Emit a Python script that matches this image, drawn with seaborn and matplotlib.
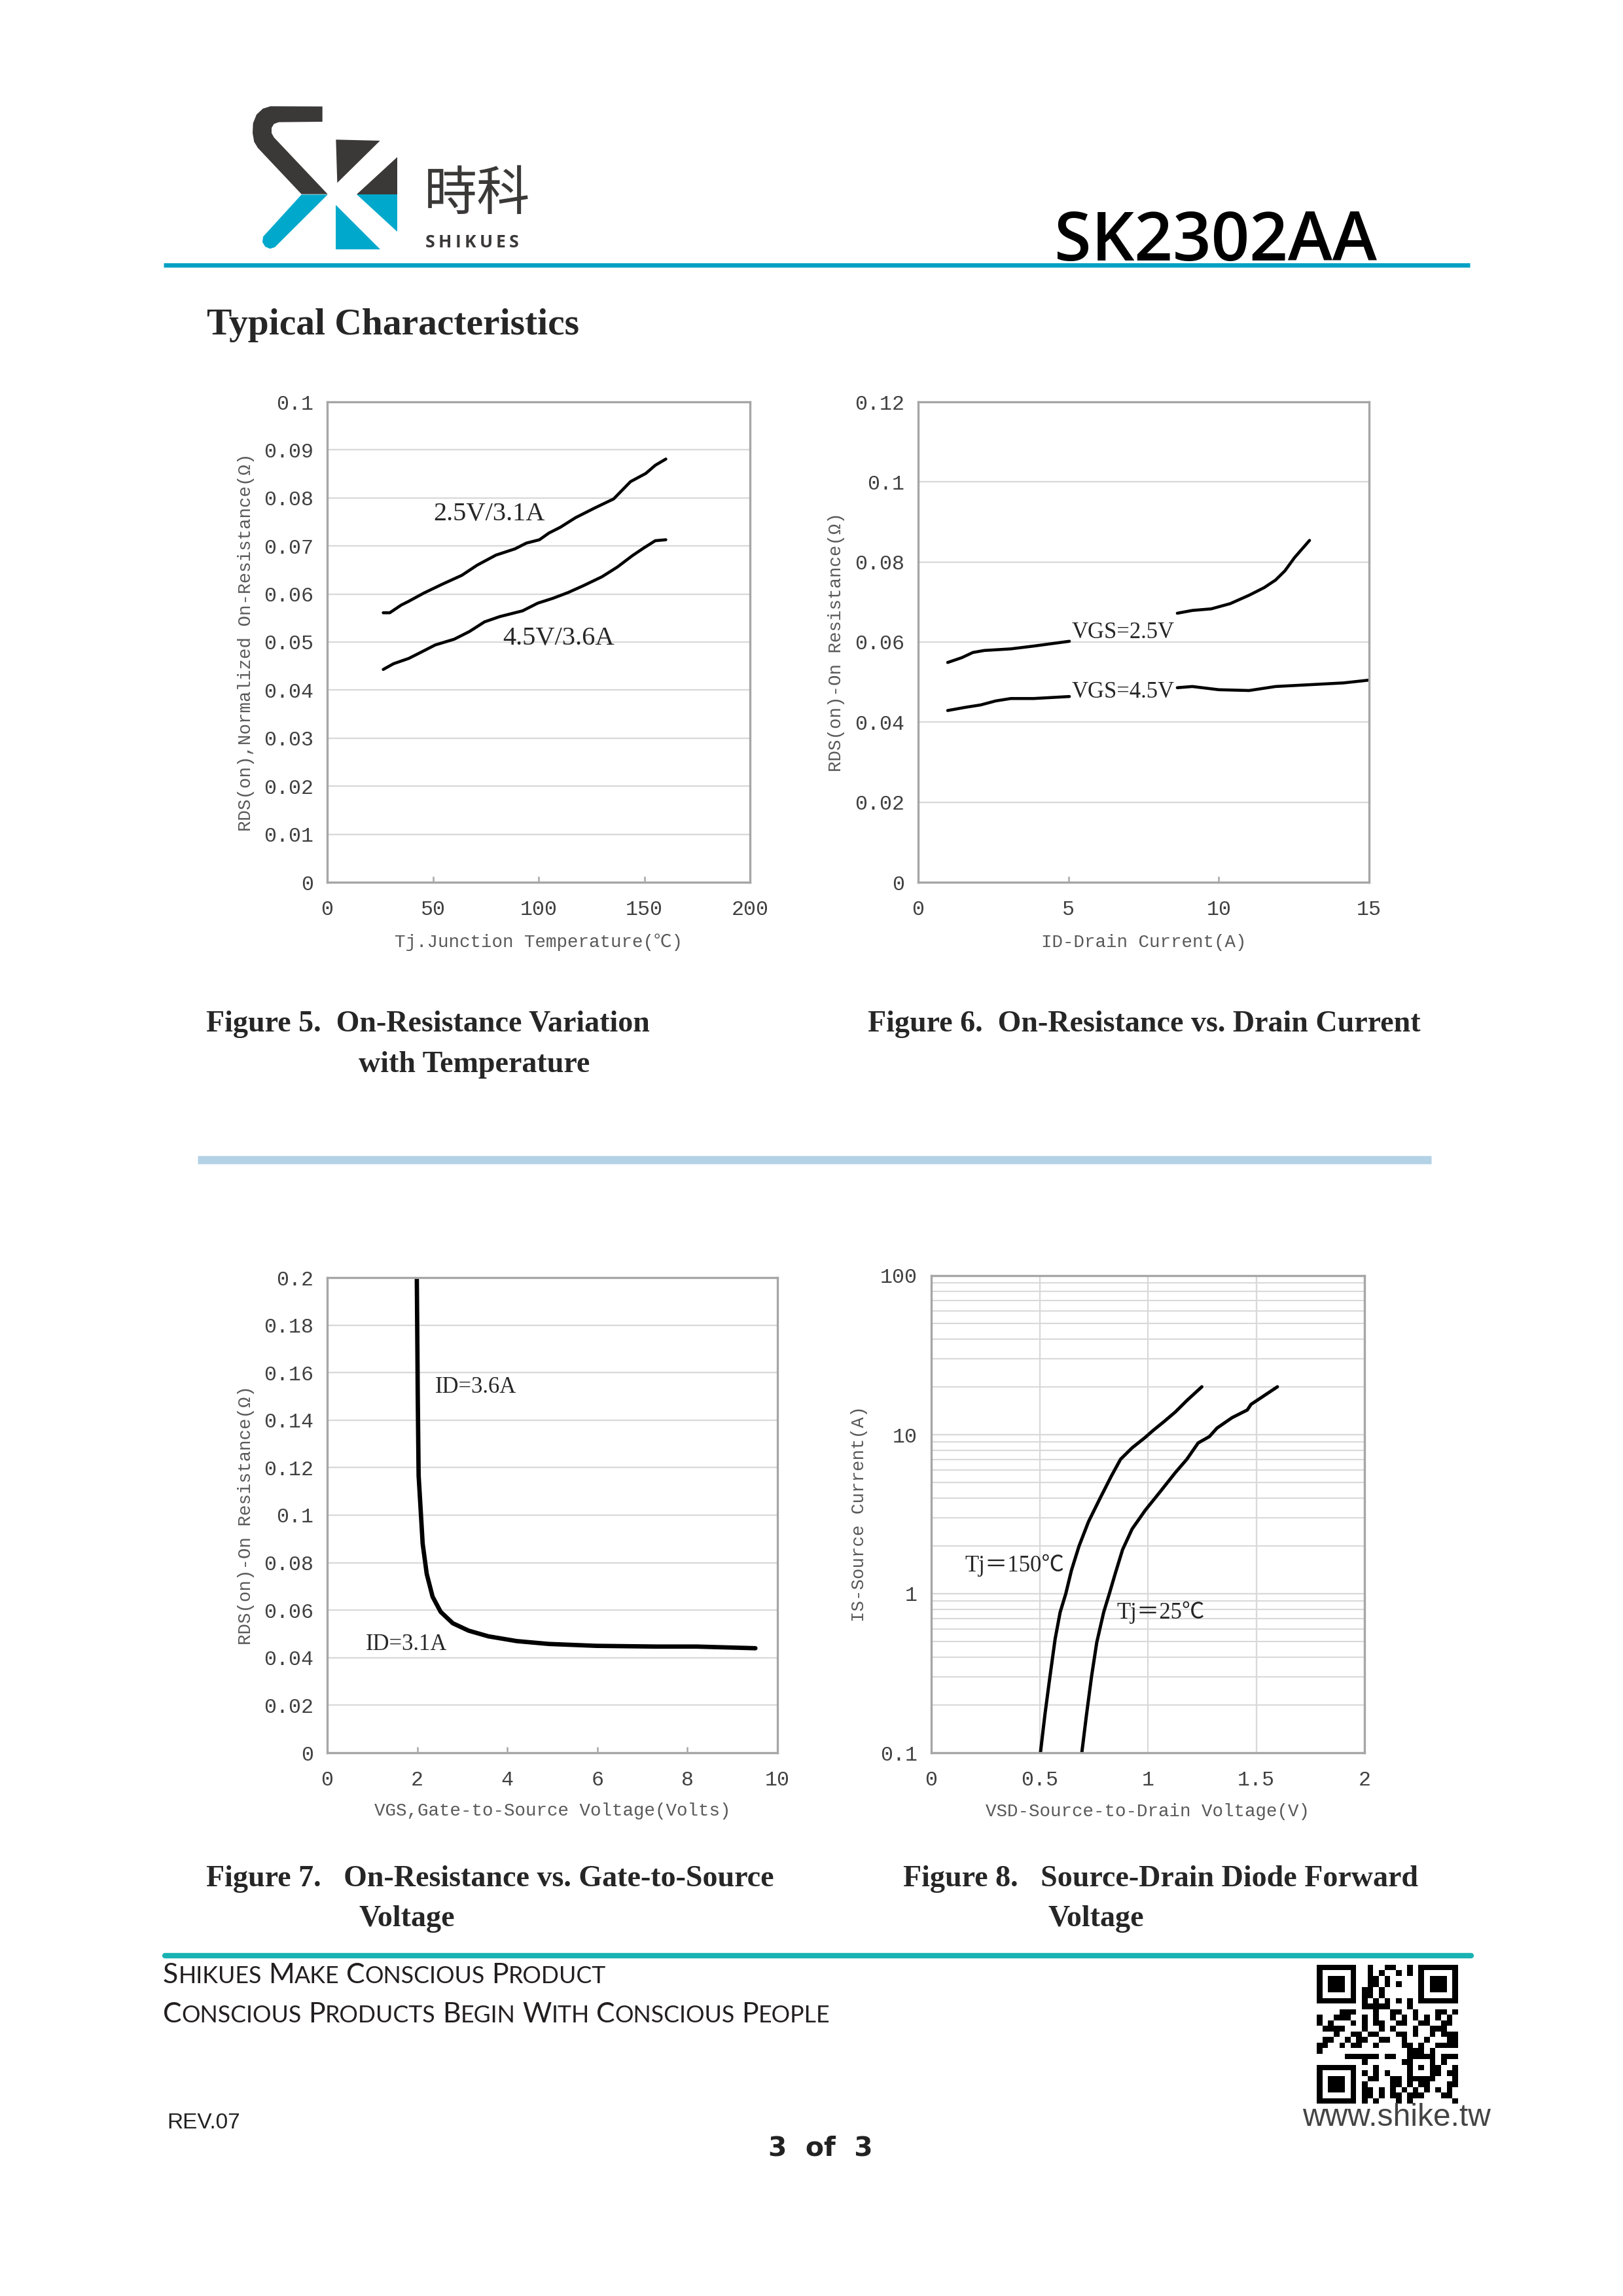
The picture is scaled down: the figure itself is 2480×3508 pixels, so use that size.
import numpy as np
import pandas as pd
import matplotlib
matplotlib.use("Agg")
import matplotlib.pyplot as plt
import seaborn as sns
from matplotlib.patches import Polygon
from matplotlib.ticker import FixedLocator, FuncFormatter, LogLocator, NullFormatter
from matplotlib.offsetbox import TextArea, HPacker, AnnotationBbox

# ---- Figure 5: on-resistance vs junction temperature ----
temp_a = [26.5, 29.6, 35, 38.6, 45.7, 54.7, 63.7, 70.9, 79.8, 88.8, 94.2, 100.4,
          104.9, 110.3, 117.5, 126.5, 135.5, 143.5, 150.7, 155.2, 160.2]
rds_a = [0.0561, 0.0561, 0.0577, 0.0585, 0.0602, 0.0621, 0.0639, 0.0660, 0.0681,
         0.0694, 0.0706, 0.0713, 0.0727, 0.0739, 0.0759, 0.0779, 0.0798, 0.0834,
         0.0851, 0.0868, 0.0881]
temp_b = [26.5, 31.4, 38.6, 44, 51.1, 60.1, 67.3, 74.4, 81.6, 92.4, 99.6, 106.7,
          113.9, 121, 130, 137.2, 144.4, 149.8, 155.2, 160.2]
rds_b = [0.0443, 0.0455, 0.0466, 0.0478, 0.0494, 0.0506, 0.0522, 0.0542, 0.0553,
         0.0565, 0.0581, 0.0591, 0.0603, 0.0617, 0.0636, 0.0656, 0.0680, 0.0696,
         0.0711, 0.0713]

# ---- Figure 6: on-resistance vs drain current (two pieces, label gap) ----
id_25_left = [0.98, 1.45, 1.82, 2.2, 3.08, 3.84, 5.03]
rds_25_left = [0.0549, 0.0561, 0.0574, 0.0579, 0.0583, 0.0590, 0.0602]
id_25_right = [8.62, 9.12, 9.75, 10.38, 11.01, 11.51, 11.89, 12.2, 12.52, 13.02]
rds_25_right = [0.0672, 0.0679, 0.0683, 0.0696, 0.0717, 0.0736, 0.0755, 0.0778,
                0.0811, 0.0854]
id_45_left = [0.98, 1.57, 2.08, 2.58, 3.08, 3.84, 5.03]
rds_45_left = [0.0429, 0.0437, 0.0443, 0.0453, 0.0459, 0.0459, 0.0464]
id_45_right = [8.62, 9.12, 10.0, 11.01, 11.89, 13.15, 14.15, 15.0]
rds_45_right = [0.0486, 0.0489, 0.0481, 0.0479, 0.0489, 0.0494, 0.0498, 0.0505]

# ---- Figure 7: on-resistance vs gate-to-source voltage ----
vgs = [1.99, 2.005, 2.01, 2.03, 2.08, 2.12, 2.21, 2.34, 2.52, 2.79, 3.14, 3.58,
       4.21, 4.92, 5.98, 7.31, 8.2, 9.51]
rds_vgs = [0.200, 0.1646, 0.1514, 0.1167, 0.1008, 0.0880, 0.0753, 0.0657, 0.0593,
           0.0545, 0.0514, 0.0490, 0.0470, 0.0458, 0.0450, 0.0447, 0.0447, 0.0440]

# ---- Figure 8: source-drain diode forward voltage ----
vsd_150 = [0.504, 0.525, 0.548, 0.572, 0.595, 0.621, 0.647, 0.682, 0.726, 0.778,
           0.831, 0.874, 0.927, 0.988, 1.023, 1.075, 1.127, 1.180, 1.249]
is_150 = [0.1, 0.175, 0.302, 0.521, 0.765, 1.0, 1.40, 1.99, 2.84, 3.95, 5.48, 7.01,
          8.26, 9.62, 10.6, 12.1, 13.9, 16.4, 20.0]
vsd_25 = [0.695, 0.717, 0.740, 0.764, 0.796, 0.822, 0.848, 0.883, 0.927, 0.988,
          1.058, 1.127, 1.180, 1.232, 1.284, 1.319, 1.389, 1.459, 1.476, 1.598]
is_25 = [0.1, 0.175, 0.302, 0.494, 0.765, 1.0, 1.32, 1.89, 2.55, 3.35, 4.40, 5.78,
         7.01, 8.87, 9.73, 11.0, 12.8, 14.3, 15.5, 20.0]

W, H = 2480, 3508
sns.set_theme(style="white")
plt.rcParams["font.family"] = ["Liberation Serif", "Noto Sans CJK SC", "DejaVu Sans"]

MONO = ["Liberation Mono", "DejaVu Sans Mono", "Noto Sans CJK SC"]
SERIF = ["Liberation Serif", "Noto Sans CJK SC", "DejaVu Sans"]
DARK = "#3b3838"
CYAN = "#00a9cc"

fig = plt.figure(figsize=(W / 300, H / 300), dpi=300, facecolor="white")

# page overlay in pixel coordinates
page = fig.add_axes([0, 0, 1, 1])
page.set_xlim(0, W)
page.set_ylim(H, 0)
page.axis("off")


def lp(x, y):
    # logo sketch coords -> page pixels
    return (370 + x / 3.0, 150 + y / 3.0)


logo_shapes = [
    ([(368, 38), (368, 108), (168, 110), (146, 118), (135, 136), (135, 160),
      (146, 180), (392, 440), (272, 440), (72, 228), (55, 200), (48, 160),
      (50, 115), (66, 75), (95, 48), (130, 37)], DARK),
    ([(272, 442), (392, 442), (150, 683), (128, 690), (106, 681), (93, 660),
      (96, 635)], CYAN),
    ([(430, 190), (632, 195), (436, 388)], DARK),
    ([(710, 270), (710, 440), (525, 440)], DARK),
    ([(525, 442), (710, 442), (710, 612)], CYAN),
    ([(430, 490), (430, 692), (632, 692)], CYAN),
]
for pts, col in logo_shapes:
    page.add_patch(Polygon([lp(*p) for p in pts], closed=True, color=col, lw=0))

page.text(648, 298, "時科", fontsize=19.5, color=DARK, ha="left", va="center",
          family=["Noto Sans CJK TC", "Noto Sans CJK SC"], fontweight="light")
logo_letters = HPacker(children=[TextArea(ch, textprops=dict(
    fontsize=6.4, color=DARK, family=["Open Sans", "DejaVu Sans"], fontweight="bold"))
    for ch in "SHIKUES"], align="baseline", pad=0, sep=1.25)
page.add_artist(AnnotationBbox(logo_letters, (650, 371), xycoords="data",
                               box_alignment=(0, 0.5), frameon=False, pad=0))
page.text(2104, 398, "SK2302AA", fontsize=24.7, color="black", ha="right",
          va="baseline", family=["Open Sans", "DejaVu Sans"], fontweight="semibold")
page.plot([250, 2246], [405, 405], color="#00a0c4", lw=1.6, solid_capstyle="butt")
page.text(316, 497, "Typical Characteristics", fontsize=13.8, fontweight="bold",
          ha="left", va="center", family=SERIF)

# captions
cap = dict(fontsize=11.05, fontweight="bold", ha="left", va="center", family=SERIF)
page.text(315, 1565, "Figure 5.  On-Resistance Variation", **cap)
page.text(548, 1627, "with Temperature", **cap)
page.text(1326, 1565, "Figure 6.  On-Resistance vs. Drain Current", **cap)
page.text(315, 2871, "Figure 7.   On-Resistance vs. Gate-to-Source", **cap)
page.text(548, 2932, "Voltage", **cap)
page.text(1380, 2871, "Figure 8.   Source-Drain Diode Forward", **cap)
page.text(1601, 2932, "Voltage", **cap)

page.plot([302, 2187], [1772, 1772], color="#b4d2e6", lw=3.0, solid_capstyle="butt")

# footer
page.plot([252, 2248], [2988, 2988], color="#1ab3b3", lw=2.0, solid_capstyle="round")


def small_caps(text, x, y, big, small):
    props_big = dict(fontsize=big, color="#231f20", family=["Lato", "DejaVu Sans"])
    props_small = dict(props_big, fontsize=small)
    words = []
    for w in text.split():
        words.append(HPacker(children=[TextArea(w[0], textprops=props_big),
                                       TextArea(w[1:].upper(), textprops=props_small)],
                             align="baseline", pad=0, sep=0))
    box = HPacker(children=words, align="baseline", pad=0, sep=2.5)
    page.add_artist(AnnotationBbox(box, (x, y), xycoords="data", box_alignment=(0, 0.5),
                                   frameon=False, pad=0))


small_caps("Shikues Make Conscious Product", 249, 3018, 10.3, 8.6)
small_caps("Conscious Products Begin With Conscious People", 249, 3078, 10.3, 8.6)
page.text(255, 3244, "REV.07", fontsize=8, color="#222222", ha="left", va="center",
          family=["Liberation Sans", "DejaVu Sans"])
page.text(1254, 3282, "3  of  3", fontsize=9.8, color="#222222", ha="center",
          va="center", family=["DejaVu Sans"], fontweight="bold")
page.text(2134, 3236, "www.shike.tw", fontsize=11.5, color="#444444", ha="center",
          va="center", family=["Liberation Sans", "DejaVu Sans"])

# QR-style block (decorative, fixed integer pattern)
n = 25
qr = np.zeros((n, n), dtype=int)
for r in range(n):
    for c in range(n):
        h = (r * 73856093) ^ (c * 19349663) ^ (r * c * 83492791)
        qr[r, c] = 1 if (h >> 3) % 7 < 3 else 0


def finder(r0, c0):
    qr[max(r0 - 1, 0):r0 + 8, max(c0 - 1, 0):c0 + 8] = 0
    qr[r0:r0 + 7, c0:c0 + 7] = 1
    qr[r0 + 1:r0 + 6, c0 + 1:c0 + 6] = 0
    qr[r0 + 2:r0 + 5, c0 + 2:c0 + 5] = 1


finder(0, 0)
finder(0, n - 7)
finder(n - 7, 0)
qr[16:21, 16:21] = 1
qr[17:20, 17:20] = 0
qr[18, 18] = 1
qr[6, 8:n - 8] = [1 - (i % 2) for i in range(n - 16)]
qr[8:n - 8, 6] = [1 - (i % 2) for i in range(n - 16)]
page.imshow(1 - qr, cmap="gray", vmin=0, vmax=1, interpolation="nearest",
            extent=(2012, 2228, 3214, 3002), aspect="auto", zorder=2)
page.set_xlim(0, W)
page.set_ylim(H, 0)

# ---- chart helpers ----
SPINE = "#a6a6a6"
GRID = "#d9d9d9"


def style_axes(ax, xlabel, ylabel, ylab_x, xlab_y):
    ax.set_facecolor("white")
    for s in ax.spines.values():
        s.set_visible(True)
        s.set_color(SPINE)
        s.set_linewidth(0.8)
    ax.grid(False)
    ax.yaxis.grid(True, which="major", color=GRID, lw=0.55)
    ax.set_axisbelow(True)
    ax.tick_params(axis="y", which="both", length=0, pad=5.0, labelsize=7.6,
                   labelcolor="#404040")
    ax.tick_params(axis="x", which="both", direction="in", length=2.2, width=0.6,
                   color=SPINE, pad=6.5, labelsize=7.6, labelcolor="#404040",
                   bottom=True, top=False)
    for lab in ax.get_xticklabels() + ax.get_yticklabels():
        lab.set_family(MONO)
    ax.set_xlabel(xlabel, fontsize=6.6, color="#595959", family=MONO)
    ax.set_ylabel(ylabel, fontsize=6.6, color="#595959", family=MONO)
    ax.yaxis.set_label_coords(ylab_x, 0.5)
    ax.xaxis.set_label_coords(0.5, xlab_y)


def fmt(v, _pos):
    return ("%.3f" % v).rstrip("0").rstrip(".") if v != 0 else "0"


def axes_at(x0, y0, x1, y1):
    return fig.add_axes([x0 / W, 1 - y1 / H, (x1 - x0) / W, (y1 - y0) / H])


# Figure 5
ax5 = axes_at(500, 614, 1146, 1348)
sns.lineplot(x=temp_a, y=rds_a, ax=ax5, color="black", lw=1.1, sort=False, estimator=None)
sns.lineplot(x=temp_b, y=rds_b, ax=ax5, color="black", lw=1.1, sort=False, estimator=None)
ax5.set_xlim(0, 200)
ax5.set_ylim(0, 0.1)
ax5.xaxis.set_major_locator(FixedLocator([0, 50, 100, 150, 200]))
ax5.yaxis.set_major_locator(FixedLocator([i / 100 for i in range(11)]))
ax5.yaxis.set_major_formatter(FuncFormatter(fmt))
ax5.text(50.2, 0.0767, "2.5V/3.1A", fontsize=9.7, family=SERIF, va="center")
ax5.text(83, 0.0507, "4.5V/3.6A", fontsize=9.7, family=SERIF, va="center")
style_axes(ax5, "Tj.Junction Temperature(℃)", "RDS(on),Normalized On-Resistance(Ω)",
           -0.172, -0.107)

# Figure 6
ax6 = axes_at(1403, 614, 2092, 1348)
for xs, ys in [(id_25_left, rds_25_left), (id_25_right, rds_25_right),
               (id_45_left, rds_45_left), (id_45_right, rds_45_right)]:
    sns.lineplot(x=xs, y=ys, ax=ax6, color="black", lw=1.1, sort=False, estimator=None)
ax6.set_xlim(0, 15)
ax6.set_ylim(0, 0.12)
ax6.xaxis.set_major_locator(FixedLocator([0, 5, 10, 15]))
ax6.yaxis.set_major_locator(FixedLocator([i / 100 for i in range(0, 13, 2)]))
ax6.yaxis.set_major_formatter(FuncFormatter(fmt))
ax6.text(5.1, 0.0623, "VGS=2.5V", fontsize=8.3, family=SERIF, va="center")
ax6.text(5.1, 0.0475, "VGS=4.5V", fontsize=8.3, family=SERIF, va="center")
style_axes(ax6, "ID-Drain Current(A)", "RDS(on)-On Resistance(Ω)", -0.162, -0.107)

# Figure 7
ax7 = axes_at(500, 1952, 1188, 2678)
sns.lineplot(x=vgs, y=rds_vgs, ax=ax7, color="black", lw=1.6, sort=False, estimator=None)
ax7.set_xlim(0, 10)
ax7.set_ylim(0, 0.2)
ax7.xaxis.set_major_locator(FixedLocator(list(range(0, 11, 2))))
ax7.yaxis.set_major_locator(FixedLocator([i / 100 for i in range(0, 21, 2)]))
ax7.yaxis.set_major_formatter(FuncFormatter(fmt))
ax7.text(2.39, 0.1539, "ID=3.6A", fontsize=8.3, family=SERIF, va="center")
ax7.text(0.85, 0.0455, "ID=3.1A", fontsize=8.3, family=SERIF, va="center")
style_axes(ax7, "VGS,Gate-to-Source Voltage(Volts)", "RDS(on)-On Resistance(Ω)",
           -0.162, -0.105)

# Figure 8
ax8 = axes_at(1423, 1949, 2085, 2678)
sns.lineplot(x=vsd_150, y=is_150, ax=ax8, color="black", lw=1.2, sort=False, estimator=None)
sns.lineplot(x=vsd_25, y=is_25, ax=ax8, color="black", lw=1.2, sort=False, estimator=None)
ax8.set_yscale("log")
ax8.set_xlim(0, 2)
ax8.set_ylim(0.1, 100)
ax8.xaxis.set_major_locator(FixedLocator([0, 0.5, 1, 1.5, 2]))
ax8.xaxis.set_major_formatter(FuncFormatter(fmt))
ax8.yaxis.set_major_locator(FixedLocator([0.1, 1, 10, 100]))
ax8.yaxis.set_major_formatter(FuncFormatter(lambda v, p: "%g" % v))
ax8.yaxis.set_minor_locator(LogLocator(base=10, subs=range(2, 10)))
ax8.yaxis.set_minor_formatter(NullFormatter())
ax8.text(0.154, 1.5, "Tj＝150℃", fontsize=8.3, family=SERIF, va="center")
ax8.text(0.857, 0.765, "Tj＝25℃", fontsize=8.3, family=SERIF, va="center")
style_axes(ax8, "VSD-Source-to-Drain Voltage(V)", "IS-Source Current(A)", -0.146, -0.105)
ax8.yaxis.grid(True, which="minor", color=GRID, lw=0.5)
ax8.xaxis.grid(True, which="major", color=GRID, lw=0.55)
ax8.tick_params(axis="x", length=0)

fig.savefig("out.png", dpi=300, facecolor="white")
